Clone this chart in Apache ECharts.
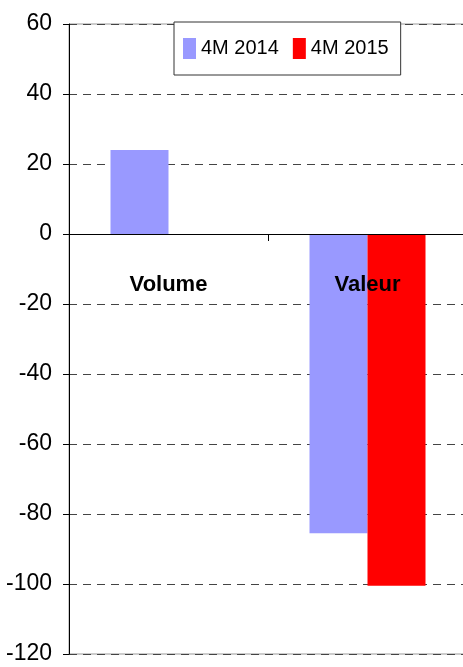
<!DOCTYPE html>
<html>
<head>
<meta charset="utf-8">
<script src="https://cdn.jsdelivr.net/npm/echarts@6/dist/echarts.min.js"></script>
<style>html,body{margin:0;padding:0;background:#fff;}#c{width:463px;height:667px;}</style>
</head>
<body>
<div id="c"></div>
<script>
var categories = ['Volume', 'Valeur'];
var seriesNames = ['4M 2014', '4M 2015'];
var values2014 = [24, -85.5];
var values2015 = [0, -100.5];
var yTicks = { min: -120, max: 60, interval: 20 };

var FONT = '"Liberation Sans", Arial, sans-serif';
var chart = echarts.init(document.getElementById('c'));
chart.setOption({
  animation: false,
  backgroundColor: '#fff',
  textStyle: { fontFamily: FONT },
  grid: { left: 69, top: 24, width: 398, height: 630, outerBoundsMode: 'none', containLabel: false, show: true, borderColor: '#999', borderWidth: 1, backgroundColor: 'transparent' },
  legend: {
    left: 174, top: 22,
    padding: [16, 12, 16, 9],
    itemWidth: 13, itemHeight: 21, itemGap: 14,
    icon: 'rect',
    backgroundColor: '#fff', borderColor: '#333', borderWidth: 1,
    textStyle: { fontFamily: FONT, fontSize: 20, color: '#000' },
    data: seriesNames
  },
  xAxis: {
    type: 'category',
    data: categories,
    z: 5,
    axisLine: { onZero: true, lineStyle: { color: '#000', width: 1 } },
    axisTick: { show: true, length: 7, lineStyle: { color: '#000' } },
    axisLabel: { margin: -380, fontFamily: FONT, fontSize: 22, fontWeight: 'bold', color: '#000' },
    splitLine: { show: false }
  },
  yAxis: {
    type: 'value',
    min: yTicks.min, max: yTicks.max, interval: yTicks.interval,
    axisLine: { show: true, lineStyle: { color: '#000', width: 1 } },
    axisTick: { show: true, length: 6, lineStyle: { color: '#000' } },
    axisLabel: { margin: 17, fontFamily: FONT, fontSize: 23, color: '#000' },
    splitLine: { show: true, lineStyle: { color: '#444', type: [8, 6], width: 1 } }
  },
  series: [
    { name: seriesNames[0], type: 'bar', data: values2014, barWidth: 58, barGap: '0%', itemStyle: { color: '#9999FF' } },
    { name: seriesNames[1], type: 'bar', data: values2015, barWidth: 58, barGap: '0%', itemStyle: { color: '#FF0000' } }
  ]
});
</script>
</body>
</html>
